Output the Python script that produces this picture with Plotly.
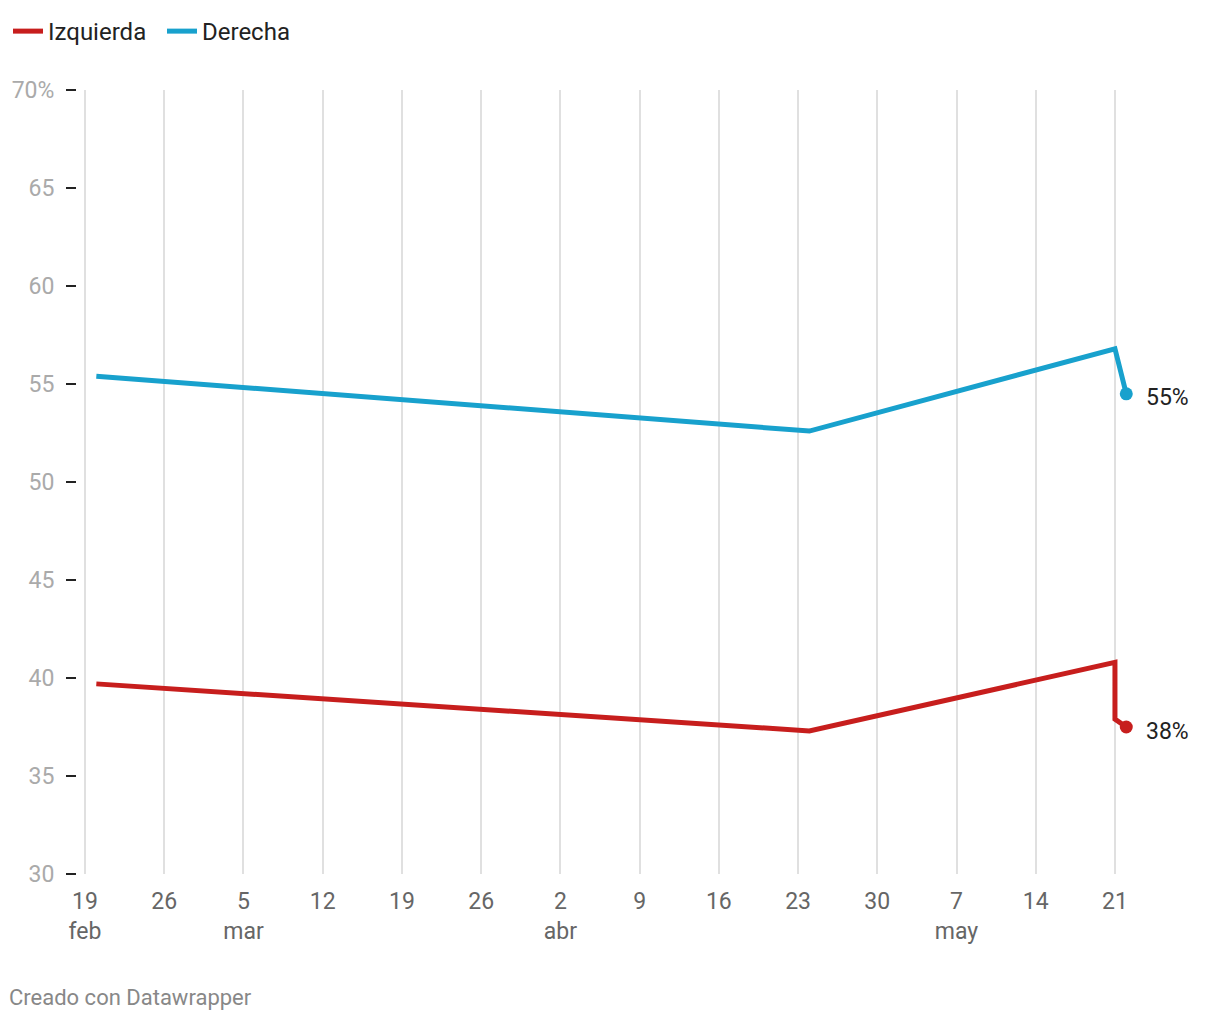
import plotly.graph_objects as go

# ---- data ----
izq_dates = ["2023-02-20", "2023-04-24", "2023-05-21", "2023-05-21", "2023-05-22"]
izq_values = [39.7, 37.3, 40.8, 37.9, 37.5]
der_dates = ["2023-02-20", "2023-04-24", "2023-05-21", "2023-05-22"]
der_values = [55.4, 52.6, 56.8, 54.5]
end_labels = ["38%", "55%"]

x_tickvals = ["2023-02-19", "2023-02-26", "2023-03-05", "2023-03-12", "2023-03-19",
              "2023-03-26", "2023-04-02", "2023-04-09", "2023-04-16", "2023-04-23",
              "2023-04-30", "2023-05-07", "2023-05-14", "2023-05-21"]
x_ticktext = ["19<br>feb", "26", "5<br>mar", "12", "19", "26", "2<br>abr", "9", "16",
              "23", "30", "7<br>may", "14", "21"]
y_tickvals = [30, 35, 40, 45, 50, 55, 60, 65, 70]
y_ticktext = ["30", "35", "40", "45", "50", "55", "60", "65", "70%"]

RED = "#c71e1d"
BLUE = "#18a1cd"
FONT = "Roboto"

fig = go.Figure()
fig.add_trace(go.Scatter(x=izq_dates, y=izq_values, mode="lines", name="Izquierda",
                         line=dict(color=RED, width=5), hoverinfo="skip",
                         legend="legend"))
fig.add_trace(go.Scatter(x=der_dates, y=der_values, mode="lines", name="Derecha",
                         line=dict(color=BLUE, width=5), hoverinfo="skip",
                         legend="legend2"))
# end markers
fig.add_trace(go.Scatter(x=[izq_dates[-1]], y=[izq_values[-1]], mode="markers",
                         marker=dict(color=RED, size=13), showlegend=False,
                         cliponaxis=False, hoverinfo="skip"))
fig.add_trace(go.Scatter(x=[der_dates[-1]], y=[der_values[-1]], mode="markers",
                         marker=dict(color=BLUE, size=13), showlegend=False,
                         cliponaxis=False, hoverinfo="skip"))

for d, v, t in [(izq_dates[-1], izq_values[-1], end_labels[0]),
                (der_dates[-1], der_values[-1], end_labels[1])]:
    fig.add_annotation(x=d, y=v, text=t, showarrow=False, xanchor="left",
                       yanchor="middle", xshift=18, yshift=-4,
                       font=dict(family=FONT, size=23, color="#222"))

# plot area: screen x 77..1135, y 90..874 (page offset 8px)
fig.add_annotation(xref="paper", yref="paper", x=(7 - 77) / 1058, y=(874 - 997) / 784,
                   text="Creado con Datawrapper", showarrow=False,
                   xanchor="left", yanchor="middle",
                   font=dict(family=FONT, size=22, color="#888"))

legend_style = dict(orientation="h", xref="container", yref="container",
                    y=0.999, xanchor="left", yanchor="top",
                    font=dict(family=FONT, size=24, color="#222"),
                    itemwidth=30, tracegroupgap=0, bgcolor="rgba(0,0,0,0)")

fig.update_layout(
    width=1220, height=1020,
    margin=dict(l=69, r=93, t=82, b=154, autoexpand=False),
    paper_bgcolor="white", plot_bgcolor="white",
    font=dict(family=FONT),
    legend=dict(x=0.0, **legend_style),
    legend2=dict(x=154 / 1220, **legend_style),
    showlegend=True,
)
fig.update_xaxes(
    type="date", range=["2023-02-18 07:00", "2023-05-22 18:30"],
    tickvals=x_tickvals, ticktext=x_ticktext, automargin=False,
    showgrid=True, gridcolor="#e0e0e0", gridwidth=1.5,
    showline=False, zeroline=False, ticks="",
    tickfont=dict(family=FONT, size=23, color="#666"),
    ticklabelstandoff=11,
)
fig.update_yaxes(
    range=[30, 70], tickvals=y_tickvals, ticktext=y_ticktext, automargin=False,
    showgrid=False, zeroline=False, showline=False,
    ticks="outside", ticklen=10, tickwidth=1.5, tickcolor="#222",
    tickfont=dict(family=FONT, size=23, color="#aaa"),
    ticklabelstandoff=7,
)

fig.write_html("out.html")
